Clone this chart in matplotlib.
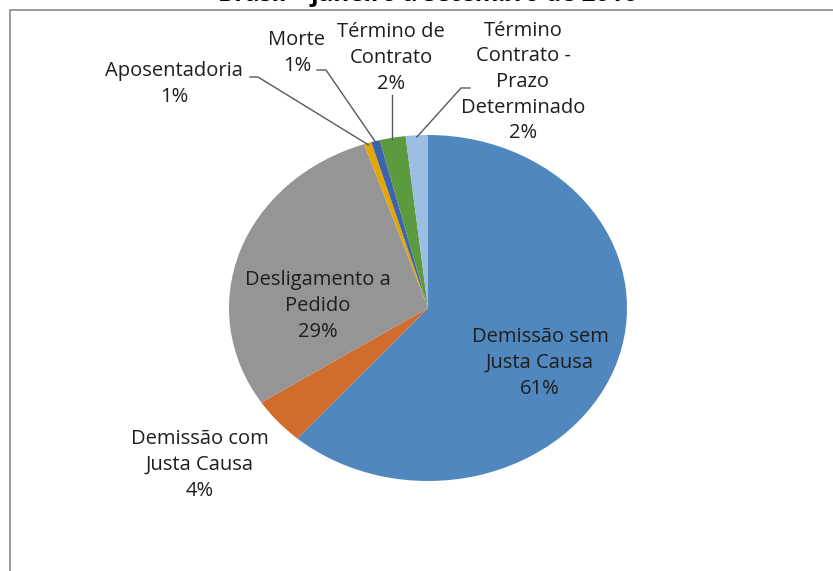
import matplotlib
matplotlib.use("Agg")
import matplotlib.pyplot as plt
from matplotlib.patches import Rectangle
import numpy as np

# dados (% dos desligamentos)
categorias = ["Demissão sem\nJusta Causa", "Demissão com\nJusta Causa", "Desligamento a\nPedido",
              "Aposentadoria", "Morte", "Término de\nContrato", "Término\nContrato -\nPrazo\nDeterminado"]
valores = [61.4, 4.4, 29.0, 0.6, 0.7, 2.1, 1.8]
cores = ["#4F87BE", "#D16D2C", "#959595", "#E4A700", "#3B63AE", "#5C9A3F", "#9CBEE2"]
titulo = "Brasil – janeiro a setembro de 2016"

W, H = 833, 571
plt.rcParams['font.family'] = ['Open Sans', 'DejaVu Sans']

fig = plt.figure(figsize=(W / 100, H / 100), dpi=100)

# moldura do gráfico
fig.patches.append(Rectangle((10 / W, -0.1), 1.2, 1.1 - 10 / H, transform=fig.transFigure,
                             fill=False, edgecolor="#878787", linewidth=1.2))
fig.text(428 / W, 1 - 1 / H, titulo, ha='center', va='baseline', fontsize=17.5, fontweight='bold')

# pizza (elíptica como no original)
cx, cy, rx, ry = 428, 308, 199, 173
ax = fig.add_axes([(cx - rx) / W, 1 - (cy + ry) / H, 2 * rx / W, 2 * ry / H])
wedges, _ = ax.pie(valores, colors=cores, startangle=90, counterclock=False, radius=1,
                   wedgeprops=dict(linewidth=0))
ax.set_xlim(-1, 1)
ax.set_ylim(-1, 1)
ax.set_aspect('auto')
ax.axis('off')


def px(x, y):
    return (x - cx) / rx, (cy - y) / ry


def rotulo(i):
    return "%s\n%d%%" % (categorias[i], round(valores[i]))


# rótulos
pos_rotulo = {0: (540, 363), 1: (200, 465), 2: (318, 306),
              3: (174, 84), 4: (297, 53), 5: (391, 58), 6: (523, 82)}
for i, (x, y) in pos_rotulo.items():
    ax.text(*px(x, y), rotulo(i), ha='center', va='center', fontsize=14.5,
            linespacing=1.38, color="#1e1e1e", clip_on=False)

# linhas de chamada das fatias pequenas
chamadas = {3: [(250, 77), (258, 77)], 4: [(317, 70), (326, 70)],
            5: [(392, 95)], 6: [(470, 88), (461, 88)]}
for i, pts in chamadas.items():
    w = wedges[i]
    t = np.deg2rad((w.theta1 + w.theta2) / 2)
    xs = [px(*p)[0] for p in pts] + [0.99 * np.cos(t)]
    ys = [px(*p)[1] for p in pts] + [0.99 * np.sin(t)]
    if i == 5:
        xs[-1] = xs[0]
    ax.plot(xs, ys, color="#595959", linewidth=1, clip_on=False)

fig.savefig("out.png", dpi=100)
